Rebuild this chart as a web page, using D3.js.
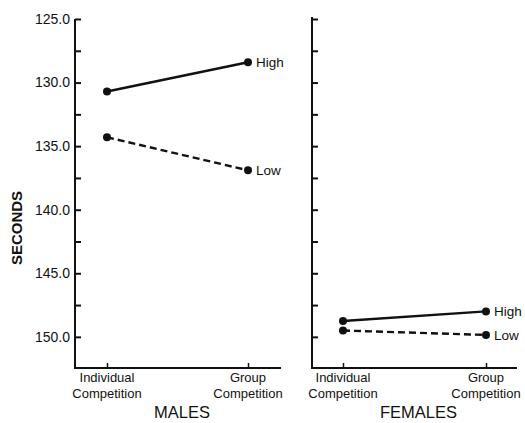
<!DOCTYPE html>
<html>
<head>
<meta charset="utf-8">
<script src="https://cdn.jsdelivr.net/npm/d3@7"></script>
<style>
  body { margin: 0; background: #fff; }
  text { font-family: "Liberation Sans", "DejaVu Sans", sans-serif; fill: #111; }
</style>
</head>
<body>
<div id="viz"></div>
<script>
const conditions = ["Individual Competition", "Group Competition"];
const malesHigh = [130.7, 128.4];
const malesLow = [134.3, 136.9];
const femalesHigh = [148.75, 148.0];
const femalesLow = [149.5, 149.85];
const yTicks = [125, 127.5, 130, 132.5, 135, 137.5, 140, 142.5, 145, 147.5, 150];
const yLabels = [125, 130, 135, 140, 145, 150];

const svg = d3.select("#viz").append("svg")
    .attr("width", 525)
    .attr("height", 423);

// 125 at top tick, bottom axis sits a little below 150
const y = d3.scaleLinear().domain([125, 152.45]).range([19, 368]);

const panels = [
    {name: "MALES", left: 75, right: 281, xr: [107, 248], high: malesHigh, low: malesLow, labels: true, top: 19},
    {name: "FEMALES", left: 312, right: 517, xr: [343, 486], high: femalesHigh, low: femalesLow, labels: false, top: 17}
];

panels.forEach(p => {
    const x = d3.scalePoint().domain(conditions).range(p.xr);
    const g = svg.append("g");

    // axes lines
    g.append("line")
        .attr("x1", p.left).attr("x2", p.left)
        .attr("y1", p.top).attr("y2", y(152.45))
        .attr("stroke", "#111").attr("stroke-width", 2);
    g.append("line")
        .attr("x1", p.left - 1).attr("x2", p.right)
        .attr("y1", y(152.45)).attr("y2", y(152.45))
        .attr("stroke", "#111").attr("stroke-width", 2);

    const ya = g.append("g")
        .attr("transform", `translate(${p.left},0)`)
        .call(d3.axisRight(y).tickValues(yTicks).tickSize(6).tickFormat(""));
    ya.select(".domain").remove();
    ya.selectAll("line").attr("stroke", "#111").attr("stroke-width", 2);

    if (p.labels) {
        g.selectAll(".ylab")
            .data(yLabels)
            .enter().append("text")
            .attr("x", p.left - 5)
            .attr("y", d => y(d))
            .attr("dy", "0.35em")
            .attr("text-anchor", "end")
            .attr("font-size", 14)
            .text(d => d3.format(".1f")(d));
    }

    const xa = g.append("g")
        .attr("transform", `translate(0,${y(152.45)})`)
        .call(d3.axisBottom(x).tickSize(-5).tickFormat(""));
    xa.select(".domain").remove();
    xa.selectAll("line").attr("stroke", "#111").attr("stroke-width", 1.5);

    conditions.forEach(c => {
        const words = c.split(" ");
        const t = g.append("text")
            .attr("text-anchor", "middle")
            .attr("font-size", 13);
        t.append("tspan").attr("x", x(c)).attr("y", 382).text(words[0]);
        t.append("tspan").attr("x", x(c)).attr("y", 398).text(words[1]);
    });

    g.append("text")
        .attr("x", (p.left + p.right) / 2 + 4)
        .attr("y", 418)
        .attr("text-anchor", "middle")
        .attr("font-size", 16.5)
        .text(p.name);

    const line = d3.line()
        .x((d, i) => x(conditions[i]))
        .y(d => y(d));

    [["High", p.high, null], ["Low", p.low, "7,4"]].forEach(([lab, vals, dash]) => {
        g.append("path")
            .datum(vals)
            .attr("fill", "none")
            .attr("stroke", "#111")
            .attr("stroke-width", 2.4)
            .attr("stroke-dasharray", dash)
            .attr("d", line);
        g.selectAll(null)
            .data(vals)
            .enter().append("circle")
            .attr("cx", (d, i) => x(conditions[i]))
            .attr("cy", d => y(d))
            .attr("r", 4)
            .attr("fill", "#111");
        g.append("text")
            .attr("x", x(conditions[1]) + 8)
            .attr("y", y(vals[1]))
            .attr("dy", "0.35em")
            .attr("font-size", 13.5)
            .text(lab);
    });
});

svg.append("text")
    .attr("transform", "translate(22,228) rotate(-90)")
    .attr("text-anchor", "middle")
    .attr("font-size", 15)
    .attr("font-weight", 700)
    .text("SECONDS");
</script>
</body>
</html>
